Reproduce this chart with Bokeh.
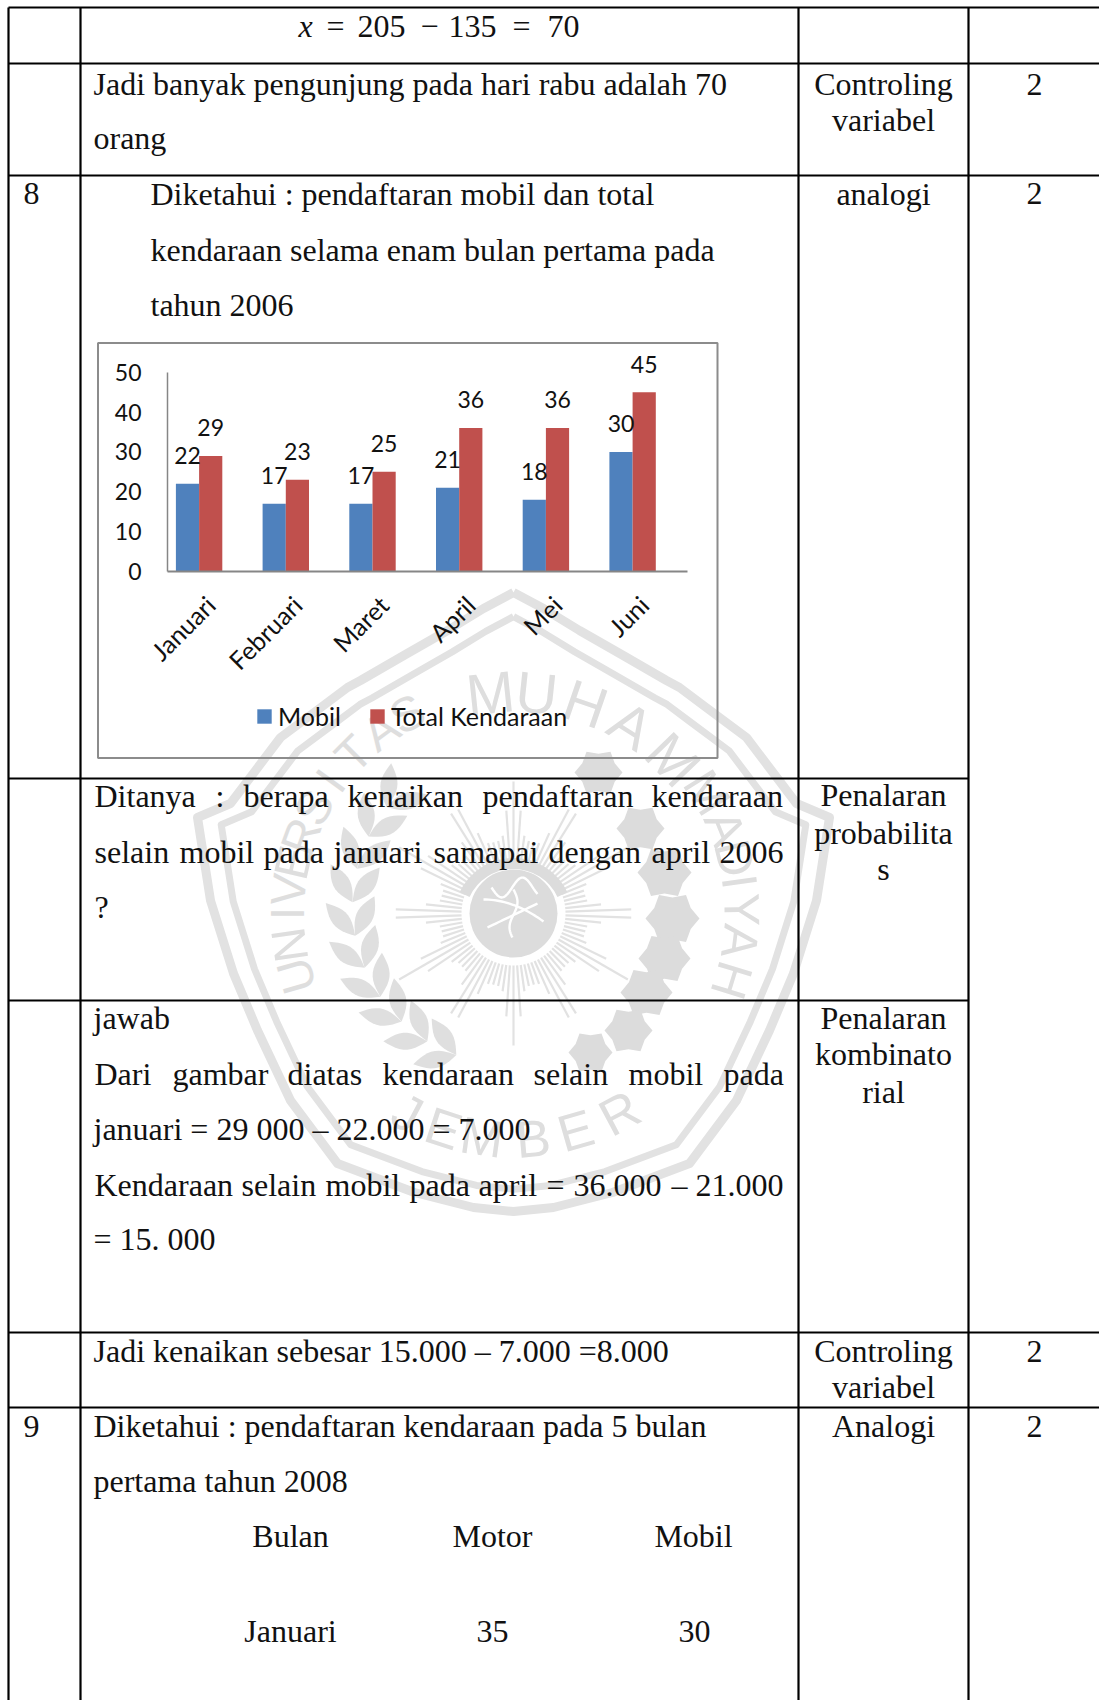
import numpy as np
from math import pi, radians, sin, cos
from bokeh.core.properties import value
from bokeh.embed import file_html
from bokeh.models import (ColumnDataSource, FixedTicker, Legend, LegendItem,
                          LinearAxis, Range1d)
from bokeh.plotting import figure
from bokeh.resources import INLINE

# Chart data
months = ["Januari", "Februari", "Maret", "April", "Mei", "Juni"]
mobil = [22, 17, 17, 21, 18, 30]
total_kendaraan = [29, 23, 25, 36, 36, 45]
value_ticks = [0, 10, 20, 30, 40, 50]

WIDTH, HEIGHT = 1099, 1700
SERIF = "Liberation Serif"
CHART_FONT = "Lato"
INK = "#111111"
WATERMARK = "#e2e2e2"
SERIF_LIFT = -11.5  # raises the 32px serif text onto its ruled baseline
LABEL_LIFT = -8.6   # same correction for the 23px chart labels

# Page geometry of the embedded chart
GROUP0_PX, GROUP_STEP_PX = 198.6, 86.7
BASE_PX, UNIT_PX = 570.8, 3.98
AXIS_PX, AXIS_END_PX = 167.0, 687.4

p = figure(width=WIDTH, height=HEIGHT, output_backend="svg", toolbar_location=None,
           x_range=Range1d(0, WIDTH), y_range=Range1d(HEIGHT, 0),
           x_axis_location=None, y_axis_location=None, min_border=0,
           outline_line_color=None, background_fill_color="white")
p.grid.visible = False


def cx(px):
    return (px - GROUP0_PX) / GROUP_STEP_PX


p.extra_x_ranges["chart"] = Range1d(cx(0), cx(WIDTH))
p.extra_y_ranges["chart"] = Range1d((BASE_PX - HEIGHT) / UNIT_PX, BASE_PX / UNIT_PX)

# --- University seal behind the page ---------------------------------------
SX, SY = 513.0, 913.0
half = [(0, 592), (-30, 608), (-66, 630), (-108, 654), (-153, 680), (-166, 687), (-190, 705),
        (-233, 737), (-283, 803), (-316, 817), (-303, 900), (-280, 973), (-256, 1030),
        (-223, 1100), (-176, 1163), (-99, 1192), (-40, 1207), (0, 1211)]
hx = np.array([h[0] for h in half], dtype=float)
hy = np.array([h[1] for h in half], dtype=float)
ox = np.concatenate([SX + hx, SX - hx[::-1]])
oy = np.concatenate([hy, hy[::-1]])
p.line(ox, oy, line_color=WATERMARK, line_width=9, line_join="round")
p.line(SX + (ox - SX) * 0.925, SY + (oy - SY) * 0.925, line_color=WATERMARK, line_width=7, line_join="round")


def seal_text(letters, angles, radius, size, bottom=False):
    p.text([SX + radius * sin(radians(a)) for a in angles],
           [SY - radius * cos(radians(a)) for a in angles],
           text=list(letters),
           angle=[-radians(a - 180) if bottom else -radians(a) for a in angles],
           text_font=value("Liberation Sans"), text_font_size=size, text_color="#dedede",
           text_align="center", text_baseline="middle")


seal_text("UNIVERSITAS", [-106, -98, -90, -84, -77, -70, -62, -54, -45, -36, -28], 226, "48px")
seal_text("MUHAM", [-6, 6, 19, 32, 46], 222, "58px")
seal_text("MADIYAH", [58, 68, 76, 82, 89, 97, 107], 228, "50px")
seal_text("JEMBER", [208, 198, 188, 175, 164, 152], 226, "52px", bottom=True)

# sun rays around the central disc
ray_t = np.arange(0, 360, 4.0)
ray_r = 74 + 50 * np.abs(np.cos(np.radians(ray_t * 6))) ** 6
ray_r = np.where(np.isclose(ray_t % 30, 0), ray_r + 8, ray_r)
p.segment(SX + 52 * np.sin(np.radians(ray_t)), SY - 52 * np.cos(np.radians(ray_t)),
          SX + ray_r * np.sin(np.radians(ray_t)), SY - ray_r * np.cos(np.radians(ray_t)),
          line_color=WATERMARK, line_width=2.2)
p.circle([SX], [SY], radius=44, fill_color="#dcdcdc", line_color=None)
p.arc([SX], [SY + 4], radius=54, start_angle=radians(25), end_angle=radians(155),
      line_color="#dcdcdc", line_width=11, direction="anticlock")
# calligraphy inside the disc
t = np.linspace(0, 1, 24)
p.multi_line([list(SX - 30 + 60 * t), list(SX - 26 + 50 * t), list(SX - 22 + 46 * t), list(SX + 4 * np.sin(t * 6))],
             [list(SY - 14 + 22 * t ** 2), list(SY + 14 - 24 * t), list(SY - 26 + 10 * np.sin(t * 7)), list(SY - 24 + 48 * t)],
             line_color="white", line_width=2.4)

# wreath on the left of the disc
for a in np.arange(-158, -42, 12.0):
    for sw in (34, -34):
        rr = 160 + (a + 97) * 0.12
        bx, by = SX + rr * sin(radians(a)), SY - rr * cos(radians(a))
        L = 44
        tx, ty = sin(radians(a + 90 + sw)), -cos(radians(a + 90 + sw))
        nx, ny = -ty, tx
        u = np.linspace(0, 1, 12)
        w = 8.5 * np.sin(pi * u)
        xs = np.concatenate([bx + L * u * tx + w * nx, (bx + L * u * tx - w * nx)[::-1]])
        ys = np.concatenate([by + L * u * ty + w * ny, (by + L * u * ty - w * ny)[::-1]])
        p.patch(xs, ys, fill_color="#dfdfdf", line_color=None)

# stepped blossoms on the right of the disc
blossoms = [(598, 772, 24), (640, 828, 24), (664, 872, 27), (672, 918, 27), (664, 958, 26),
            (646, 992, 26), (628, 1030, 24), (590, 1052, 22)]
for bx, by, br in blossoms:
    ang = np.radians(np.arange(0, 360, 30.0))
    rad = br * np.where(np.arange(12) % 2 == 0, 1.0, 0.78)
    p.patch(bx + rad * np.cos(ang), by + rad * np.sin(ang), fill_color="#dcdcdc", line_color=None)

# --- Table rules -----------------------------------------------------------
column_rules = [8, 80, 798, 968]
p.segment(column_rules, [7] * 4, column_rules, [HEIGHT] * 4, line_color="#000000", line_width=2.2)
row_rules = [(7, 1099), (63, 1099), (175, 1099), (778, 968), (1000, 968), (1332, 1099), (1407, 1099)]
p.segment([8] * len(row_rules), [r[0] for r in row_rules], [r[1] for r in row_rules], [r[0] for r in row_rules],
          line_color="#000000", line_width=2.2)

# --- Table text ------------------------------------------------------------
left_text = [
    (23, 204, "8"), (23, 1437, "9"),
    (326, 37, "="), (357, 37, "205"), (420, 37, "−"), (448, 37, "135"),
    (512, 37, "="), (547, 37, "70"),
    (93, 95, "Jadi banyak pengunjung pada hari rabu adalah 70"),
    (93, 149, "orang"),
    (150, 205, "Diketahui : pendaftaran mobil dan total"),
    (150, 261, "kendaraan selama enam bulan pertama pada"),
    (150, 316, "tahun 2006"),
    (94, 807, "Ditanya"), (215, 807, ":"), (243, 807, "berapa"), (347, 807, "kenaikan"),
    (482, 807, "pendaftaran"), (651, 807, "kendaraan"),
    (94, 863, "selain"), (179, 863, "mobil"), (263, 863, "pada"), (333, 863, "januari"),
    (433, 863, "samapai"), (548, 863, "dengan"), (651, 863, "april"), (719, 863, "2006"),
    (94, 918, "?"),
    (93, 1029, "jawab"),
    (94, 1085, "Dari"), (172, 1085, "gambar"), (287, 1085, "diatas"), (382, 1085, "kendaraan"),
    (533, 1085, "selain"), (628, 1085, "mobil"), (723, 1085, "pada"),
    (93, 1140, "januari = 29 000 – 22.000 = 7.000"),
    (94, 1196, "Kendaraan"), (241, 1196, "selain"), (325, 1196, "mobil"), (409, 1196, "pada"),
    (478, 1196, "april"), (546, 1196, "="), (573, 1196, "36.000"), (671, 1196, "–"), (695, 1196, "21.000"),
    (93, 1250, "= 15. 000"),
    (93, 1362, "Jadi kenaikan sebesar 15.000 – 7.000 =8.000"),
    (93, 1437, "Diketahui : pendaftaran kendaraan pada 5 bulan"),
    (93, 1492, "pertama tahun 2008"),
]
centre_text = [
    (883, 95, "Controling"), (883, 131, "variabel"), (1034, 95, "2"),
    (883, 205, "analogi"), (1034, 204, "2"),
    (883, 806, "Penalaran"), (883, 844, "probabilita"), (883, 880, "s"),
    (883, 1029, "Penalaran"), (883, 1065, "kombinato"), (883, 1103, "rial"),
    (883, 1362, "Controling"), (883, 1398, "variabel"), (1034, 1362, "2"),
    (883, 1437, "Analogi"), (1034, 1437, "2"),
    (290, 1547, "Bulan"), (492, 1547, "Motor"), (693, 1547, "Mobil"),
    (290, 1642, "Januari"), (492, 1642, "35"), (694, 1642, "30"),
]
for rows, align in ((left_text, "left"), (centre_text, "center")):
    p.text([r[0] for r in rows], [r[1] for r in rows], text=[r[2] for r in rows], y_offset=SERIF_LIFT,
           text_font=value(SERIF), text_font_size="32px", text_color=INK,
           text_align=align, text_baseline="alphabetic")
p.text([298], [37], text=["x"], y_offset=SERIF_LIFT, text_font=value(SERIF), text_font_style="italic",
       text_font_size="32px", text_color=INK, text_baseline="alphabetic")

# --- Chart frame -----------------------------------------------------------
p.quad(left=[97.5], right=[717], top=[342.5], bottom=[757.5], fill_color=None,
       line_color="#8c8c8c", line_width=2)

# --- Bars ------------------------------------------------------------------
positions = np.arange(len(months), dtype=float)
BAR = 0.2676
source = ColumnDataSource(dict(xm=positions - BAR / 2, xt=positions + BAR / 2,
                               mobil=mobil, total=total_kendaraan,
                               mobil_label=[str(v) for v in mobil],
                               total_label=[str(v) for v in total_kendaraan]))
r_mobil = p.vbar(x="xm", top="mobil", width=BAR, bottom=0, source=source,
                 fill_color="#4f81bd", line_color=None, x_range_name="chart", y_range_name="chart")
r_total = p.vbar(x="xt", top="total", width=BAR, bottom=0, source=source,
                 fill_color="#c0504d", line_color=None, x_range_name="chart", y_range_name="chart")

for col, src in (("xm", "mobil"), ("xt", "total")):
    p.text(x=col, y=src, text=src + "_label", source=source,
           x_range_name="chart", y_range_name="chart", y_offset=-19.6 + LABEL_LIFT,
           text_font=value(CHART_FONT), text_font_size="23px", text_color=INK,
           text_align="center", text_baseline="alphabetic")

# --- Axes drawn inside the page frame --------------------------------------
LABEL_SHIFT = 0.13  # rotated month labels end slightly right of their group
tick_spots = [i + LABEL_SHIFT for i in range(len(months))]
x_axis = LinearAxis(x_range_name="chart", y_range_name="chart", fixed_location=0,
                    bounds=(cx(AXIS_PX), cx(AXIS_END_PX)),
                    ticker=FixedTicker(ticks=tick_spots),
                    major_label_overrides={s: m for s, m in zip(tick_spots, months)},
                    major_label_orientation=pi / 4, major_label_standoff=23,
                    major_tick_line_color=None, minor_tick_line_color=None,
                    axis_line_color="#868686", axis_line_width=2,
                    major_label_text_font=CHART_FONT, major_label_text_font_size="25px",
                    major_label_text_color=INK)
p.add_layout(x_axis, "below")
y_axis = LinearAxis(x_range_name="chart", y_range_name="chart", fixed_location=cx(AXIS_PX),
                    bounds=(0, 50), ticker=FixedTicker(ticks=value_ticks),
                    major_label_standoff=20, major_tick_line_color=None, minor_tick_line_color=None,
                    axis_line_color="#868686", axis_line_width=1.5,
                    major_label_text_font=CHART_FONT, major_label_text_font_size="23px",
                    major_label_text_color=INK)
p.add_layout(y_axis, "left")

legend = Legend(items=[LegendItem(label="Mobil", renderers=[r_mobil]),
                       LegendItem(label="Total Kendaraan", renderers=[r_total])],
                orientation="horizontal", location=(255, HEIGHT - 731), margin=0, padding=0,
                glyph_width=18, glyph_height=18, label_standoff=5, spacing=27,
                background_fill_alpha=0, border_line_alpha=0,
                label_text_font=CHART_FONT, label_text_font_size="25px", label_text_color=INK)
p.add_layout(legend)

open("out.html", "w").write(file_html(p, INLINE))
